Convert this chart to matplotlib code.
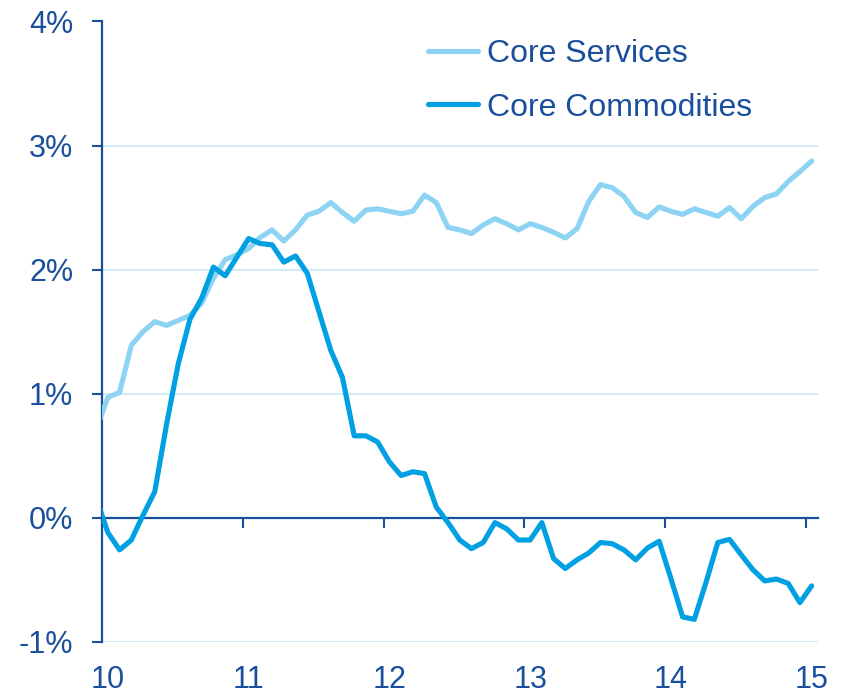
import numpy as np
import matplotlib
matplotlib.use("Agg")
import matplotlib.pyplot as plt

# 月次データ (2009年12月 〜 2015年1月), 前年比 %
core_services = [
    0.71, 0.97, 1.01, 1.39, 1.50, 1.58, 1.55, 1.59, 1.63, 1.73, 1.93, 2.08, 2.12,
    2.17, 2.26, 2.32, 2.23, 2.32, 2.44, 2.47, 2.54, 2.46, 2.39, 2.48, 2.49,
    2.47, 2.45, 2.47, 2.60, 2.54, 2.34, 2.32, 2.29, 2.36, 2.41, 2.37, 2.32,
    2.37, 2.34, 2.30, 2.255, 2.33, 2.55, 2.685, 2.66, 2.59, 2.46, 2.42, 2.505,
    2.47, 2.445, 2.49, 2.46, 2.43, 2.50, 2.41, 2.51, 2.58, 2.61, 2.71, 2.79,
    2.875,
]
core_commodities = [
    0.16, -0.12, -0.26, -0.18, 0.02, 0.21, 0.75, 1.24, 1.60, 1.77, 2.02, 1.95, 2.10,
    2.25, 2.21, 2.20, 2.06, 2.11, 1.97, 1.66, 1.35, 1.13, 0.66, 0.66, 0.61,
    0.45, 0.34, 0.37, 0.355, 0.085, -0.04, -0.18, -0.25, -0.20, -0.04, -0.09, -0.18,
    -0.18, -0.04, -0.33, -0.41, -0.34, -0.285, -0.20, -0.21, -0.26, -0.34, -0.245, -0.19,
    -0.49, -0.80, -0.82, -0.52, -0.20, -0.175, -0.30, -0.42, -0.51, -0.495, -0.53, -0.685,
    -0.55,
]
years = [10, 11, 12, 13, 14, 15]
year_labels = ["10", "11", "12", "13", "14", "15"]
y_ticks = [-1, 0, 1, 2, 3, 4]
y_labels = ["-1%", "0%", "1%", "2%", "3%", "4%"]

NAVY = "#1A4F9C"
LIGHT = "#8DD3F3"
CYAN = "#00A0E2"
GRID = "#C8E7F6"

plt.rcParams["font.family"] = ["Liberation Sans", "DejaVu Sans"]

# 月の中央に点を置く (12月は軸の外 → クリップ)
x = 10 + (np.arange(len(core_services)) - 0.5) / 12

fig = plt.figure(figsize=(8.44, 6.93), dpi=100)
ax = fig.add_axes([102 / 844, 1 - 641.7 / 693, (817.5 - 102) / 844, (641.7 - 21.5) / 693])

for yv in y_ticks:
    if yv != 0:
        ax.axhline(yv, color=GRID, lw=1.2, zorder=0)

ax.plot(x, core_services, color=LIGHT, lw=3.7, solid_joinstyle="round",
        solid_capstyle="round", label="Core Services", zorder=3)
ax.plot(x, core_commodities, color=CYAN, lw=3.7, solid_joinstyle="round",
        solid_capstyle="round", label="Core Commodities", zorder=4)

ax.set_xlim(10, 10 + 61 / 12)
ax.set_ylim(-1, 4)

for s in ["top", "right"]:
    ax.spines[s].set_visible(False)
ax.spines["left"].set_color(NAVY)
ax.spines["left"].set_linewidth(1.6)
ax.spines["bottom"].set_color(NAVY)
ax.spines["bottom"].set_linewidth(1.6)
ax.spines["bottom"].set_position(("data", 0))
ax.spines["bottom"].set_zorder(2)

ax.set_yticks(y_ticks)
ax.set_yticklabels(y_labels)
ax.tick_params(axis="y", direction="out", length=7.2, width=1.5, color=NAVY,
               labelcolor=NAVY, labelsize=22, pad=13.5)

ax.set_xticks(years)
ax.set_xticklabels([])
ax.tick_params(axis="x", direction="out", length=7.2, width=1.5, color=NAVY)

# 年ラベルは1月の中央、グラフ下端に表示
sec = ax.secondary_xaxis("bottom")
sec.spines["bottom"].set_visible(False)
sec.set_xticks([yr + 0.5 / 12 for yr in years])
sec.set_xticklabels(year_labels)
sec.tick_params(axis="x", length=0, labelcolor=NAVY, labelsize=22, pad=16.5)

leg = ax.legend(loc="upper left", bbox_to_anchor=((428 - 102) / 715.5, 0.972),
                frameon=False, fontsize=23, handlelength=1.55, handletextpad=0.3,
                labelspacing=0.74, borderpad=0, borderaxespad=0)
for t in leg.get_texts():
    t.set_color(NAVY)

fig.savefig("out.png", dpi=100)
